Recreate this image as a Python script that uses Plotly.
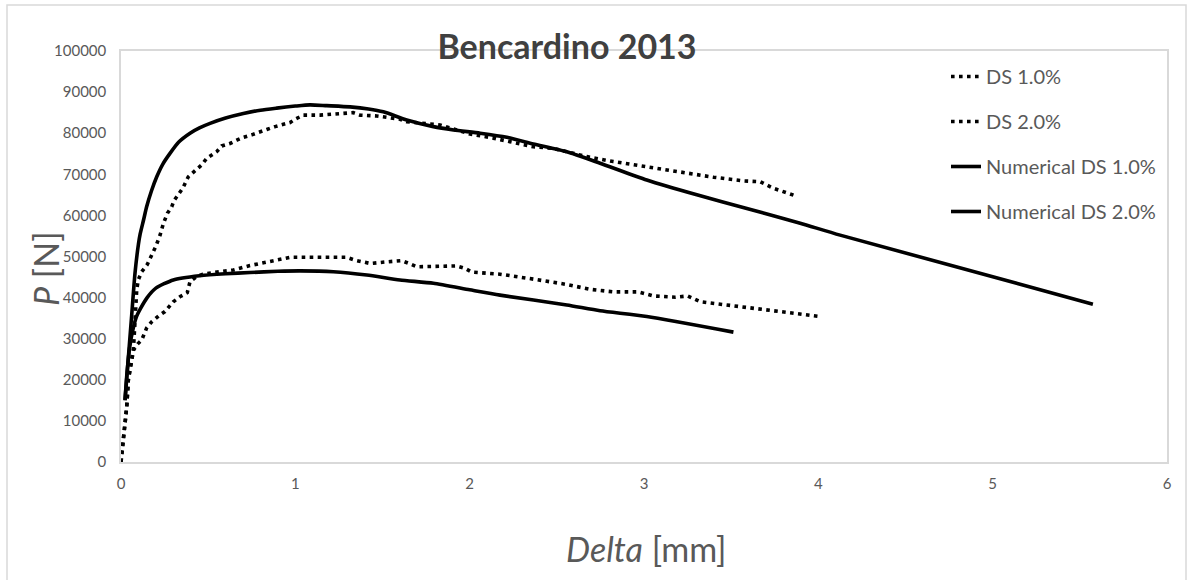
import plotly.graph_objects as go

# ---- data ----
ds1_x = [0, 0.013, 0.023, 0.033, 0.042, 0.061, 0.071, 0.095, 0.119, 0.147, 0.176, 0.215, 0.252,
         0.30, 0.338, 0.38, 0.396, 0.43, 0.47, 0.568, 0.644, 0.74, 0.836, 0.97, 1.123, 1.295,
         1.343, 1.429, 1.524, 1.61, 1.658, 1.696, 1.926, 1.974, 2.012, 2.174, 2.365, 2.557,
         2.691, 2.824, 2.968, 3.054, 3.18, 3.25, 3.322, 3.551, 3.781, 4.01]
ds1_y = [0, 5400, 11000, 13500, 20000, 24800, 27200, 28700, 29700, 32600, 34100, 35500, 36600,
         39000, 40200, 41200, 43900, 45000, 45700, 46300, 46700, 47800, 48700, 49800, 49800, 49800,
         49100, 48300, 48700, 49000, 48200, 47500, 47700, 47100, 46200, 45700, 44500, 43200,
         42000, 41400, 41400, 40400, 40100, 40400, 39000, 37800, 36600, 35400]

ds2_x = [0, 0.013, 0.023, 0.033, 0.042, 0.061, 0.071, 0.08, 0.09, 0.099, 0.119, 0.15, 0.18, 0.20,
         0.224, 0.243, 0.266, 0.291, 0.304, 0.329, 0.354, 0.386, 0.425, 0.463, 0.492, 0.549, 0.578,
         0.625, 0.664, 0.702, 0.75, 0.797, 0.836, 0.884, 0.922, 0.97, 0.998, 1.046, 1.142, 1.238,
         1.275, 1.331, 1.371, 1.467, 1.60, 1.639, 1.83, 2.002, 2.136, 2.27, 2.365, 2.48, 2.672,
         2.824, 3.016, 3.207, 3.398, 3.57, 3.666, 3.742, 3.828, 3.873]
ds2_y = [0, 5400, 11000, 13500, 20000, 24800, 27200, 34000, 41800, 44300, 46300, 48000, 50500, 52500,
         55200, 58000, 60500, 62100, 63600, 65000, 66600, 69400, 71000, 72300, 73900, 75500, 76900,
         77500, 78300, 79000, 79600, 80400, 80900, 81600, 82000, 82600, 83400, 84400, 84400, 84700,
         85000, 85000, 84400, 84200, 83400, 82800, 82000, 79800, 78800, 77500, 76700, 76300, 74300,
         73100, 71800, 70600, 69300, 68400, 68200, 66600, 65400, 64700]

num1_x = [0.023, 0.035, 0.05, 0.07, 0.09, 0.11, 0.15, 0.2, 0.3, 0.45, 0.6, 0.74, 0.9, 1.027, 1.218,
          1.41, 1.6, 1.792, 2.0, 2.174, 2.557, 2.748, 3.016, 3.513]
num1_y = [15100, 22000, 28000, 32500, 35500, 37200, 40000, 42300, 44300, 45300, 45800, 46100, 46400,
          46500, 46300, 45500, 44300, 43500, 41900, 40600, 38200, 36800, 35400, 31600]

num2_x = [0.023, 0.04, 0.06, 0.08, 0.1, 0.11, 0.13, 0.147, 0.175, 0.205, 0.24, 0.281, 0.33, 0.396,
          0.45, 0.511, 0.6, 0.702, 0.8, 0.893, 1.0, 1.084, 1.18, 1.314, 1.42, 1.505, 1.639, 1.792,
          1.907, 2.06, 2.213, 2.365, 2.557, 2.748, 3.016, 3.303, 3.59, 3.896, 4.125, 5.575]
num2_y = [15000, 24200, 35000, 45800, 53000, 55500, 59000, 62100, 66000, 69400, 72500, 75100, 77800,
          80000, 81300, 82400, 83700, 84800, 85600, 86100, 86600, 86900, 86700, 86400, 85900, 85200,
          83200, 81600, 80800, 80000, 79000, 77400, 75500, 72700, 68600, 65000, 61700, 58100, 55200,
          38400]

series_names = ["DS 1.0%", "DS 2.0%", "Numerical DS 1.0%", "Numerical DS 2.0%"]
x_ticks = [0, 1, 2, 3, 4, 5, 6]
y_ticks = list(range(0, 100001, 10000))

FONT = "Lato"
GRAY = "#595959"
BORDER = "#d9d9d9"

fig = go.Figure()
data_sets = [(ds1_x, ds1_y), (ds2_x, ds2_y), (num1_x, num1_y), (num2_x, num2_y)]
for i, ((xs, ys), name) in enumerate(zip(data_sets, series_names)):
    dotted = i < 2
    fig.add_trace(go.Scatter(
        x=xs, y=ys, name=name, mode="lines", legendgroup=f"g{i}",
        line=dict(color="black", width=3.6,
                  dash="3.6px,4.4px" if dotted else "solid",
                  shape="linear" if dotted else "spline",
                  smoothing=0.6 if not dotted else None),
    ))

fig.update_layout(
    width=1192, height=580,
    margin=dict(l=121, r=25, t=51, b=118),
    paper_bgcolor="white", plot_bgcolor="white",
    font=dict(family=FONT, color=GRAY),
    showlegend=True,
    title=dict(text="<b>Bencardino 2013</b>", x=567 / 1192, y=1 - 47 / 580,
               xref="container", yref="container", xanchor="center", yanchor="middle",
               font=dict(family=FONT, size=34, color="#404040")),
    legend=dict(x=(946 - 121) / 1046, y=(462 - 57) / 411, xanchor="left", yanchor="top",
                bgcolor="rgba(0,0,0,0)", font=dict(family=FONT, size=20, color=GRAY),
                tracegroupgap=16, traceorder="grouped"),
    xaxis=dict(range=[0, 6], tickvals=x_ticks, ticktext=[str(v) for v in x_ticks],
               showgrid=False, zeroline=False, showline=True, mirror=True,
               linecolor=BORDER, linewidth=1.5, ticks="", ticklabelstandoff=7,
               tickfont=dict(family=FONT, size=15, color=GRAY)),
    yaxis=dict(range=[0, 100000], tickvals=y_ticks, ticktext=[str(v) for v in y_ticks],
               showgrid=False, zeroline=False, showline=True, mirror=True,
               linecolor=BORDER, linewidth=1.5, ticks="", ticklabelstandoff=10,
               tickfont=dict(family=FONT, size=15, color=GRAY)),
    annotations=[
        dict(text="<i>Delta</i> [mm]", xref="paper", yref="paper",
             x=(646 - 121) / 1046, y=(462 - 548) / 411, xanchor="center", yanchor="middle",
             showarrow=False, font=dict(family=FONT, size=34, color=GRAY)),
        dict(text="<i>P</i> [N]", xref="paper", yref="paper", textangle=-90,
             x=(45 - 121) / 1046, y=(462 - 268) / 411, xanchor="center", yanchor="middle",
             showarrow=False, font=dict(family=FONT, size=34, color=GRAY)),
    ],
    shapes=[
        dict(type="rect", xref="paper", yref="paper",
             x0=(7 - 121) / 1046, x1=(1186 - 121) / 1046,
             y0=(462 - 584) / 411, y1=(462 - 5) / 411,
             line=dict(color=BORDER, width=1.5), layer="below"),
    ],
)

fig.write_html("out.html", config={"displayModeBar": False},
               post_script="document.body.style.margin='0';")
